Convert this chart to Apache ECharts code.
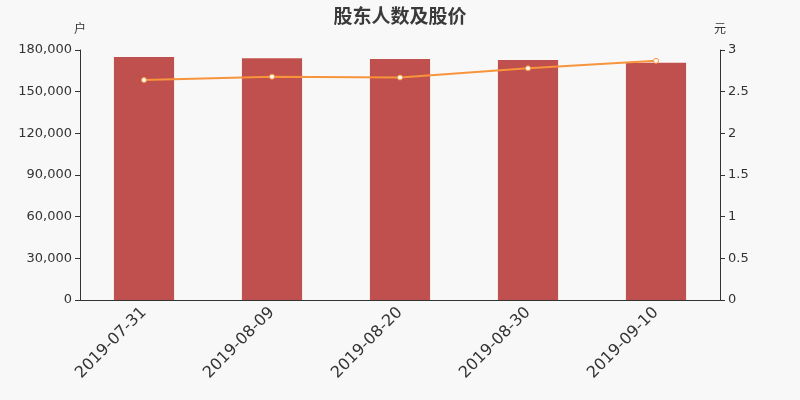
<!DOCTYPE html>
<html>
<head>
<meta charset="utf-8">
<script src="https://cdn.jsdelivr.net/npm/echarts@6/dist/echarts.min.js"></script>
<style>
  html, body { margin: 0; padding: 0; background: #f8f8f8; }
  #chart { width: 800px; height: 400px; }
</style>
</head>
<body>
<div id="chart"></div>
<script>
// 日期、股东户数、股价
const dates = ['2019-07-31', '2019-08-09', '2019-08-20', '2019-08-30', '2019-09-10'];
const holders = [175000, 174100, 173500, 172800, 170900];
const prices = [2.64, 2.68, 2.67, 2.78, 2.87];

const chart = echarts.init(document.getElementById('chart'));
const axisColor = '#333';
const font = 'DejaVu Sans';

chart.setOption({
  backgroundColor: '#f8f8f8',
  animation: false,
  title: {
    text: '股东人数及股价',
    left: 'center',
    top: 1,
    textStyle: { fontSize: 19, fontWeight: 'bold', color: '#3a3a3a', fontFamily: 'Noto Sans CJK SC' }
  },
  grid: { left: 80, right: 80, top: 50, bottom: 100 },
  xAxis: {
    type: 'category',
    data: dates,
    axisLine: { lineStyle: { color: axisColor } },
    axisTick: { lineStyle: { color: axisColor } },
    axisLabel: { rotate: 45, fontSize: 16, color: '#333', fontFamily: font, margin: 10 }
  },
  yAxis: [
    {
      type: 'value',
      name: '户',
      min: 0,
      max: 180000,
      interval: 30000,
      nameGap: 16,
      nameTextStyle: { color: '#333', fontSize: 12, fontFamily: 'Noto Sans CJK SC', align: 'center' },
      splitLine: { show: false },
      axisLine: { show: true, lineStyle: { color: axisColor } },
      axisTick: { show: true, lineStyle: { color: axisColor } },
      axisLabel: {
        color: '#333', fontSize: 13, fontFamily: font,
        formatter: v => v.toLocaleString('en-US')
      }
    },
    {
      type: 'value',
      name: '元',
      min: 0,
      max: 3,
      interval: 0.5,
      nameGap: 16,
      nameTextStyle: { color: '#333', fontSize: 12, fontFamily: 'Noto Sans CJK SC', align: 'center' },
      splitLine: { show: false },
      axisLine: { show: true, lineStyle: { color: axisColor } },
      axisTick: { show: true, lineStyle: { color: axisColor } },
      axisLabel: { color: '#333', fontSize: 13, fontFamily: font }
    }
  ],
  series: [
    {
      type: 'bar',
      data: holders,
      barWidth: '47%',
      itemStyle: { color: '#c0504d' }
    },
    {
      type: 'line',
      yAxisIndex: 1,
      data: prices,
      symbol: 'circle',
      symbolSize: 5,
      lineStyle: { color: '#f7943c', width: 2 },
      itemStyle: { color: '#fff', borderColor: '#f7943c', borderWidth: 1 }
    }
  ]
});
</script>
</body>
</html>
